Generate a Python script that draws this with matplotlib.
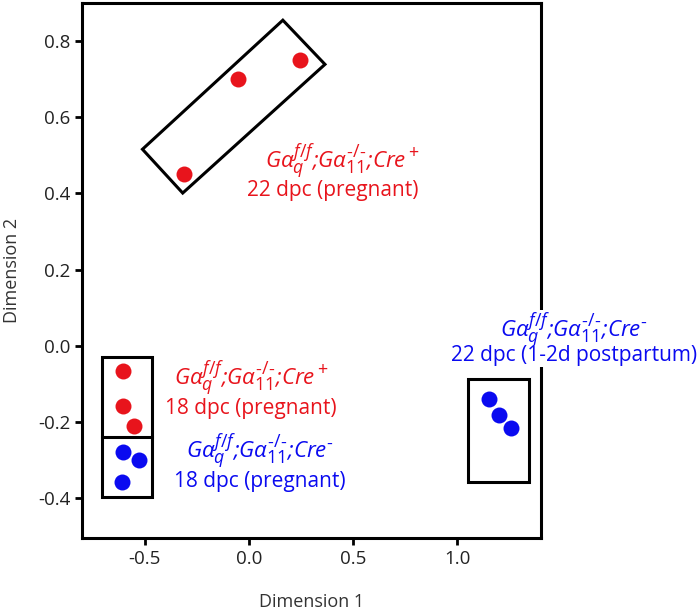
import numpy as np
import matplotlib
matplotlib.use("Agg")
from matplotlib import pyplot as plt
from matplotlib.patches import Polygon, Rectangle
import matplotlib._mathtext as mt

# the figure uses bigger sub/superscripts than mathtext's default
mt.SHRINK_FACTOR = 0.8

plt.rcParams['font.family'] = ['Open Sans', 'DejaVu Sans']
plt.rcParams['mathtext.fontset'] = 'custom'
plt.rcParams['mathtext.rm'] = 'Open Sans'
plt.rcParams['mathtext.it'] = 'Open Sans:italic'
plt.rcParams['mathtext.default'] = 'it'

# MDS coordinates
red22_x = [-0.31, -0.05, 0.245]
red22_y = [0.45, 0.70, 0.75]
red18_x = [-0.605, -0.605, -0.55]
red18_y = [-0.066, -0.157, -0.21]
blue18_x = [-0.605, -0.525, -0.607]
blue18_y = [-0.28, -0.30, -0.358]
blue22_x = [1.15, 1.197, 1.255]
blue22_y = [-0.139, -0.181, -0.217]

# group boxes
tilt_box = [(-0.51, 0.516), (0.163, 0.855), (0.365, 0.739), (-0.317, 0.401)]
left_box = (-0.706, -0.396, 0.244, 0.367)
left_split = -0.241
right_box = (1.053, -0.357, 0.288, 0.27)

hy = '\u2010'
geno_pos = 'G$\\alpha_q^{f/f}$;G$\\alpha_{11}^{' + hy + '/' + hy + '}$;Cre$^+$'
geno_neg = 'G$\\alpha_q^{f/f}$;G$\\alpha_{11}^{' + hy + '/' + hy + '}$;Cre$^' + hy + '$'

RED = '#e8141c'
BLUE = '#0a0af0'

fig = plt.figure(figsize=(6.97, 6.10), dpi=100)
ax = fig.add_axes([0.1176, 0.118, 0.776 - 0.1176, 0.995 - 0.118])

ms = 11.5
ax.plot(red22_x, red22_y, 'o', color=RED, ms=ms, mec='none', zorder=3)
ax.plot(red18_x, red18_y, 'o', color=RED, ms=ms, mec='none', zorder=3)
ax.plot(blue18_x, blue18_y, 'o', color=BLUE, ms=ms, mec='none', zorder=3)
ax.plot(blue22_x, blue22_y, 'o', color=BLUE, ms=ms, mec='none', zorder=3)

ax.add_patch(Polygon(tilt_box, closed=True, fill=False, ec='black', lw=2.2))
ax.add_patch(Rectangle(left_box[:2], left_box[2], left_box[3], fill=False, ec='black', lw=2.2))
ax.plot([left_box[0], left_box[0] + left_box[2]], [left_split, left_split], color='black', lw=2.2)
ax.add_patch(Rectangle(right_box[:2], right_box[2], right_box[3], fill=False, ec='black', lw=2.2))

fs = 15
def line(x, y, s, color, italic=False, bg=False, size=fs):
    kw = dict(ha='center', va='center', fontsize=size, color=color, zorder=5, clip_on=False)
    if italic:
        kw['style'] = 'italic'
    if bg:
        kw['bbox'] = dict(fc='white', ec='none', pad=0.3)
    ax.text(x, y, s, **kw)

gs = 16
line(0.447, 0.485, geno_pos, RED, italic=True, size=gs)
line(0.40, 0.409, '22 dpc (pregnant)', RED)
line(0.01, -0.086, geno_pos, RED, italic=True, size=gs)
line(0.01, -0.165, '18 dpc (pregnant)', RED)
line(0.053, -0.277, geno_neg, BLUE, italic=True, size=gs)
line(0.053, -0.356, '18 dpc (pregnant)', BLUE)
line(1.558, 0.04, geno_neg, BLUE, italic=True, bg=True, size=gs)
line(1.558, -0.026, '22 dpc (1-2d postpartum)', BLUE, bg=True)

ax.set_xlim(-0.8, 1.4)
ax.set_ylim(-0.505, 0.9)
ax.set_xticks([-0.5, 0.0, 0.5, 1.0])
ax.set_yticks([-0.4, -0.2, 0.0, 0.2, 0.4, 0.6, 0.8])
ax.set_xticklabels(['-0.5', '0.0', '0.5', '1.0'])
ax.set_yticklabels(['-0.4', '-0.2', '0.0', '0.2', '0.4', '0.6', '0.8'])
for s in ax.spines.values():
    s.set_linewidth(2.2)
ax.tick_params(labelsize=13.5, width=2, length=5, color='black', labelcolor='#222222')
ax.set_xlabel('Dimension 1', fontsize=13, color='#333333', labelpad=18)
ax.set_ylabel('Dimension 2', fontsize=13, color='#333333', labelpad=12)

fig.savefig('out.png', dpi=100)
